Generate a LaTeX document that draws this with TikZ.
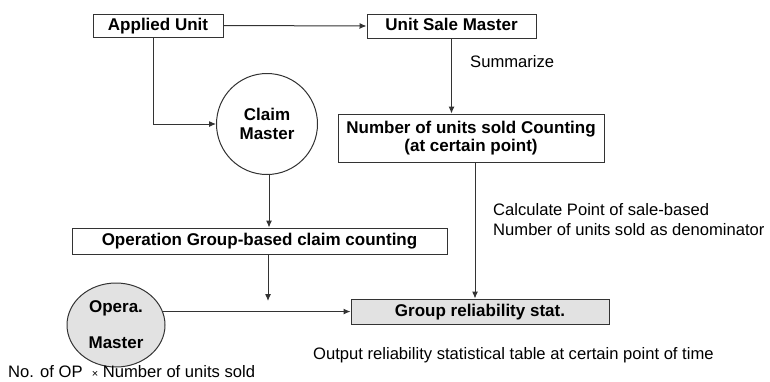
\documentclass[tikz,border=0pt]{standalone}
\usepackage{fontspec}
\setmainfont{Liberation Sans}
\usetikzlibrary{arrows.meta,shapes.geometric}
\definecolor{linecol}{HTML}{333333}
\definecolor{fillgray}{HTML}{E2E2E2}
\tikzset{
  box/.style={draw=linecol,line width=1pt,inner sep=0pt,font=\fontsize{17}{18}\selectfont\bfseries,align=center},
  onebox/.style={box,text height=12.5pt,text depth=3.5pt},
  circ/.style={draw=linecol,line width=1pt,circle,inner sep=0pt,font=\fontsize{17}{19}\selectfont\bfseries,align=center},
  note/.style={inner sep=0pt,font=\fontsize{16.6}{20}\selectfont,anchor=west,align=left},
  arr/.style={draw=linecol,line width=1pt,-{Latex[length=7pt,width=6pt]}}
}
\begin{document}
\begin{tikzpicture}[x=1pt,y=-1pt]
\useasboundingbox (0,0) rectangle (770,381);
\node[onebox,minimum width=130,minimum height=23] (au) at (158,25.5) {Applied Unit};
\node[onebox,minimum width=169,minimum height=24] (usm) at (451.5,26) {Unit Sale Master};
\node[circ,minimum size=101] (cm) at (267,124) {Claim\\Master};
\node[box,minimum width=266,minimum height=48] (nus) at (471,138) {Number of units sold Counting\\(at certain point)};
\node[onebox,minimum width=375,minimum height=26] (ogc) at (259.5,241) {Operation Group-based claim counting};
\node[draw=linecol,line width=1pt,ellipse,fill=fillgray,minimum width=98,minimum height=84,inner sep=0pt,font=\fontsize{17}{36}\selectfont\bfseries,align=center] (om) at (116,325) {Opera.\\Master};
\node[onebox,fill=fillgray,minimum width=258,minimum height=25] (grs) at (480,311.5) {Group reliability stat.};
\node[note] (sum) at (470,62) {Summarize};
\node[note] (calc) at (493,220) {Calculate Point of sale-based\\Number of units sold as denominator};
\node[note] (out) at (313,355) {Output reliability statistical table at certain point of time};
\node[note] (nop) at (8,372) {No. of OP\ \ {\fontsize{11}{12}\selectfont×} Number of units sold};
\coordinate (opend) at (268,301);
\draw[arr] (au.east) -- (usm.west);
\draw[arr] (au.south -| 153,0) |- (cm.west);
\draw[arr] (usm.south) -- (usm.south |- nus.north);
\draw[arr] (cm.south -| 269,0) -- (ogc.north -| 269,0);
\draw[arr] (ogc.south -| opend) -- (opend);
\draw[arr] (om.16) -- (om.16 -| grs.west);
\draw[arr] (nus.south -| 475,0) -- (grs.north -| 475,0);
\end{tikzpicture}
\end{document}
